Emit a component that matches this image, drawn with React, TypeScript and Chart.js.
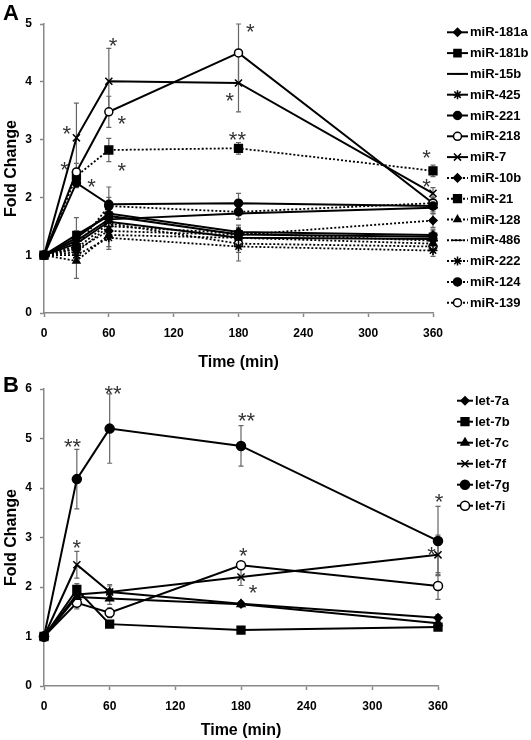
import React, { useEffect, useRef } from 'react';
import { Chart, registerables } from 'chart.js';
import { drawPoint } from 'chart.js/helpers';

Chart.register(...registerables);

const FONT = '"Liberation Sans", Arial, sans-serif';

// ---------- shared ----------
const timePoints = [0, 30, 60, 180, 360];
const xTickStep = 60;

// ---------- Panel A data ----------
const namesA = ['miR-181a', 'miR-181b', 'miR-15b', 'miR-425', 'miR-221', 'miR-218', 'miR-7',
  'miR-10b', 'miR-21', 'miR-128', 'miR-486', 'miR-222', 'miR-124', 'miR-139'];
const miR181a = [1, 1.3, 1.72, 1.4, 1.35];
const miR181aErr = [0, 0.12, 0.15, 0.12, 0.1];
const miR181b = [1, 1.35, 1.68, 1.36, 1.32];
const miR181bErr = [0, 0.3, 0.15, 0.1, 0.1];
const miR15b = [1, 1.25, 1.62, 1.72, 1.82];
const miR15bErr = [0, 0.1, 0.12, 0.1, 0.1];
const miR425 = [1, 1.2, 1.58, 1.3, 1.28];
const miR425Err = [0, 0.15, 0.1, 0.1, 0.1];
const miR221 = [1, 2.25, 1.88, 1.9, 1.85];
const miR221Err = [0, 0.08, 0.3, 0.17, 0.1];
const miR218 = [1, 2.44, 3.48, 4.5, 1.9];
const miR218Err = [0, 0.15, 0.27, 0.5, 0.1];
const miR7 = [1, 3.03, 4.01, 3.98, 2.07];
const miR7Err = [0, 0.6, 0.57, 0.5, 0.1];
const miR10b = [1, 1.1, 1.42, 1.35, 1.6];
const miR10bErr = [0, 0.1, 0.12, 0.1, 0.12];
const miR21 = [1, 2.37, 2.82, 2.85, 2.46];
const miR21Err = [0, 0.12, 0.2, 0.1, 0.1];
const miR128 = [1, 0.9, 1.35, 1.3, 1.2];
const miR128Err = [0, 0.3, 0.2, 0.15, 0.1];
const miR486 = [1, 1.05, 1.5, 1.38, 1.25];
const miR486Err = [0, 0.1, 0.1, 0.1, 0.1];
const miR222 = [1, 1.0, 1.3, 1.15, 1.08];
const miR222Err = [0, 0.1, 0.2, 0.25, 0.1];
const miR124 = [1, 1.15, 1.85, 1.75, 1.9];
const miR124Err = [0, 0.1, 0.15, 0.12, 0.1];
const miR139 = [1, 1.12, 1.55, 1.2, 1.15];
const miR139Err = [0, 0.1, 0.1, 0.15, 0.1];
const valuesA = [miR181a, miR181b, miR15b, miR425, miR221, miR218, miR7, miR10b, miR21, miR128, miR486, miR222, miR124, miR139];
const errorsA = [miR181aErr, miR181bErr, miR15bErr, miR425Err, miR221Err, miR218Err, miR7Err, miR10bErr, miR21Err, miR128Err, miR486Err, miR222Err, miR124Err, miR139Err];
const yTicksA = [0, 1, 2, 3, 4, 5];
const starsAx = [21, 19, 44, 64, 72, 72, 179, 191, 172, 354, 354];
const starsAy = [3.2, 2.57, 2.28, 4.72, 3.37, 2.56, 3.08, 4.95, 3.77, 2.77, 2.27];
const starsAt = ['*', '*', '*', '*', '*', '*', '**', '*', '*', '*', '*'];

// ---------- Panel B data ----------
const namesB = ['let-7a', 'let-7b', 'let-7c', 'let-7f', 'let-7g', 'let-7i'];
const let7a = [1, 1.85, 1.9, 1.66, 1.38];
const let7aErr = [0, 0.12, 0.12, 0.05, 0.06];
const let7b = [1, 1.95, 1.25, 1.13, 1.19];
const let7bErr = [0, 0.12, 0.05, 0.05, 0.05];
const let7c = [1, 1.8, 1.77, 1.65, 1.27];
const let7cErr = [0, 0.12, 0.12, 0.05, 0.06];
const let7f = [1, 2.45, 1.9, 2.2, 2.65];
const let7fErr = [0, 0.27, 0.15, 0.17, 0.4];
const let7g = [1, 4.18, 5.2, 4.85, 2.93];
const let7gErr = [0, 0.6, 0.7, 0.41, 0.7];
const let7i = [1, 1.68, 1.48, 2.44, 2.02];
const let7iErr = [0, 0.12, 0.1, 0.05, 0.27];
const valuesB = [let7a, let7b, let7c, let7f, let7g, let7i];
const errorsB = [let7aErr, let7bErr, let7cErr, let7fErr, let7gErr, let7iErr];
const yTicksB = [0, 1, 2, 3, 4, 5, 6];
const starsBx = [26, 63, 185, 30, 182, 191, 361, 354];
const starsBy = [4.93, 6.02, 5.47, 2.89, 2.73, 1.98, 3.82, 2.75];
const starsBt = ['**', '**', '**', '*', '*', '*', '*', '*'];

// ---------- styles ----------
type Sty = { ps: string; r: number; open?: boolean; dot?: boolean };
const stylesA: Sty[] = [
  { ps: 'rectRot', r: 4 }, { ps: 'rect', r: 5 }, { ps: 'line', r: 5 }, { ps: 'star', r: 4.5 },
  { ps: 'circle', r: 4 }, { ps: 'circle', r: 4, open: true }, { ps: 'crossRot', r: 5 },
  { ps: 'rectRot', r: 4, dot: true }, { ps: 'rect', r: 5.5, dot: true }, { ps: 'triangle', r: 4, dot: true },
  { ps: 'line', r: 5, dot: true }, { ps: 'star', r: 4.5, dot: true }, { ps: 'circle', r: 4, dot: true },
  { ps: 'circle', r: 4, open: true, dot: true },
];
const stylesB: Sty[] = [
  { ps: 'rectRot', r: 4 }, { ps: 'rect', r: 5.5 }, { ps: 'triangle', r: 4.5 },
  { ps: 'crossRot', r: 5 }, { ps: 'circle', r: 4.5 }, { ps: 'circle', r: 4.5, open: true },
];

const errorBarPlugin = {
  id: 'errorBars',
  beforeDatasetsDraw(chart: any) {
    const ctx = chart.ctx;
    const ys = chart.scales.y;
    ctx.save();
    ctx.strokeStyle = '#666';
    ctx.lineWidth = 1.2;
    chart.data.datasets.forEach((ds: any, i: number) => {
      const meta = chart.getDatasetMeta(i);
      ds.data.forEach((pt: any, j: number) => {
        const e = ds.errors[j];
        if (!e) return;
        const x = meta.data[j].x;
        const t = ys.getPixelForValue(pt.y + e);
        const b = ys.getPixelForValue(pt.y - e);
        ctx.beginPath();
        ctx.moveTo(x, t); ctx.lineTo(x, b);
        ctx.moveTo(x - 2.5, t); ctx.lineTo(x + 2.5, t);
        ctx.moveTo(x - 2.5, b); ctx.lineTo(x + 2.5, b);
        ctx.stroke();
      });
    });
    ctx.restore();
  },
};

const starsPlugin = {
  id: 'stars',
  afterDatasetsDraw(chart: any, _a: any, opts: any) {
    const ctx = chart.ctx;
    ctx.save();
    ctx.font = '22px ' + FONT;
    ctx.fillStyle = '#333';
    ctx.textAlign = 'center';
    ctx.textBaseline = 'alphabetic';
    opts.xs.forEach((xv: number, i: number) => {
      const px = chart.scales.x.getPixelForValue(xv);
      const py = chart.scales.y.getPixelForValue(opts.ys[i]);
      ctx.fillText(opts.texts[i], px, py + 12.5);
    });
    ctx.restore();
  },
};

const legendPlugin = {
  id: 'sideLegend',
  afterDraw(chart: any, _a: any, opts: any) {
    const ctx = chart.ctx;
    ctx.save();
    chart.data.datasets.forEach((ds: any, i: number) => {
      const y = opts.y0 + i * opts.dy;
      ctx.strokeStyle = '#000';
      ctx.lineWidth = 2;
      ctx.setLineDash(ds.borderDash || []);
      ctx.beginPath();
      ctx.moveTo(opts.x0, y); ctx.lineTo(opts.x1, y);
      ctx.stroke();
      ctx.setLineDash([]);
      ctx.fillStyle = ds.pointBackgroundColor;
      ctx.strokeStyle = '#000';
      ctx.lineWidth = 1.5;
      drawPoint(ctx, { pointStyle: ds.pointStyle, radius: ds.pointRadius, rotation: 0, borderWidth: 1.5 }, (opts.x0 + opts.x1) / 2, y);
      ctx.fillStyle = '#000';
      ctx.font = 'bold 13px ' + FONT;
      ctx.textAlign = 'left';
      ctx.textBaseline = 'middle';
      ctx.fillText(ds.label, opts.tx, y + 0.5);
    });
    // panel letter
    ctx.font = 'bold 22px ' + FONT;
    ctx.textAlign = 'left';
    ctx.textBaseline = 'alphabetic';
    ctx.fillText(opts.letter, 3, opts.letterY);
    ctx.restore();
  },
};

function makeDatasets(names: string[], values: number[][], errors: number[][], styles: Sty[]) {
  return names.map((name, i) => {
    const s = styles[i];
    return {
      label: name,
      data: values[i].map((v, j) => ({ x: timePoints[j], y: v })),
      errors: errors[i],
      borderColor: '#000',
      borderWidth: s.dot ? 1.8 : 2,
      borderDash: s.dot ? [2, 2] : [],
      pointStyle: s.ps,
      pointRadius: s.r,
      pointBackgroundColor: s.open ? '#fff' : '#000',
      pointBorderColor: '#000',
      pointBorderWidth: 1.5,
      tension: 0,
      clip: false,
    };
  });
}

function makeOptions(cfg: any) {
  const axisColor = '#888';
  return {
    responsive: true,
    maintainAspectRatio: false,
    animation: false,
    events: [],
    layout: { padding: { left: 0, right: cfg.padRight, top: cfg.padTop, bottom: 0 } },
    scales: {
      x: {
        type: 'linear',
        min: 0,
        max: 360,
        afterFit: (s: any) => { s.height = cfg.xHeight; },
        afterBuildTicks: (s: any) => {
          const t = [];
          for (let v = 0; v <= 360; v += xTickStep) t.push({ value: v });
          s.ticks = t;
        },
        border: { color: axisColor, width: 1.5 },
        grid: { drawOnChartArea: false, tickLength: 4, color: axisColor, tickWidth: 1.5 },
        ticks: { padding: 9, color: '#000', font: { family: FONT, size: 12, weight: 'bold' } },
        title: { display: true, text: 'Time (min)', color: '#000', padding: { top: 0, bottom: 0 }, font: { family: FONT, size: 16, weight: 'bold' } },
      },
      y: {
        min: 0,
        max: cfg.yMax,
        afterFit: (s: any) => { s.width = 44; },
        afterBuildTicks: (s: any) => { s.ticks = cfg.yTicks.map((v: number) => ({ value: v })); },
        border: { color: axisColor, width: 1.5 },
        grid: { drawOnChartArea: false, tickLength: 4, color: axisColor, tickWidth: 1.5 },
        ticks: { padding: 8, color: '#000', font: { family: FONT, size: 12, weight: 'bold' } },
        title: { display: true, text: 'Fold Change', color: '#000', padding: { top: 2, bottom: 0 }, font: { family: FONT, size: 16, weight: 'bold' } },
      },
    },
    plugins: {
      legend: { display: false },
      tooltip: { enabled: false },
      stars: { xs: cfg.starsX, ys: cfg.starsY, texts: cfg.starsT },
      sideLegend: cfg.legend,
    },
  };
}

function Panel(props: { cfg: any; names: string[]; values: number[][]; errors: number[][]; styles: Sty[] }) {
  const ref = useRef<HTMLCanvasElement>(null);
  useEffect(() => {
    if (!ref.current) return;
    const chart = new Chart(ref.current, {
      type: 'line',
      data: { datasets: makeDatasets(props.names, props.values, props.errors, props.styles) as any },
      options: makeOptions(props.cfg) as any,
      plugins: [errorBarPlugin, starsPlugin, legendPlugin],
    });
    return () => chart.destroy();
  }, []);
  return (
    <div style={{ position: 'absolute', left: 0, top: props.cfg.top, width: 531, height: props.cfg.height }}>
      <canvas ref={ref} />
    </div>
  );
}

const cfgA = {
  top: 0, height: 372, padRight: 98, padTop: 24, xHeight: 59, yMax: 5, yTicks: yTicksA,
  starsX: starsAx, starsY: starsAy, starsT: starsAt,
  legend: { x0: 447, x1: 468, tx: 470, y0: 32.3, dy: 20.8, letter: 'A', letterY: 20 },
};
const cfgB = {
  top: 372, height: 368, padRight: 93, padTop: 17, xHeight: 54, yMax: 6, yTicks: yTicksB,
  starsX: starsBx, starsY: starsBy, starsT: starsBt,
  legend: { x0: 457, x1: 473, tx: 475, y0: 28.7, dy: 21, letter: 'B', letterY: 20 },
};

export default function App() {
  return (
    <div style={{ position: 'absolute', left: 0, top: 0, width: 531, height: 740, background: '#fff' }}>
      <Panel cfg={cfgA} names={namesA} values={valuesA} errors={errorsA} styles={stylesA} />
      <Panel cfg={cfgB} names={namesB} values={valuesB} errors={errorsB} styles={stylesB} />
    </div>
  );
}
